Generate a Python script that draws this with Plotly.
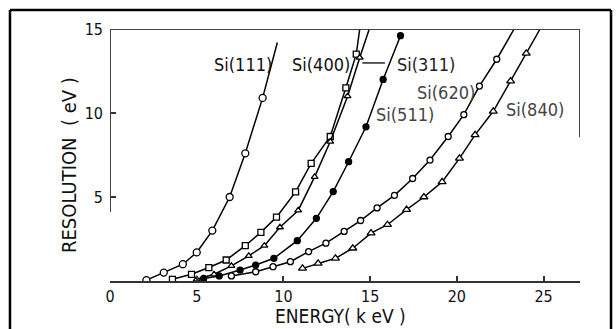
import plotly.graph_objects as go

# ---- data ----
si111_x = [2.1, 3.1, 4.2, 5.0, 5.9, 6.9, 7.8, 8.8, 9.65]
si111_y = [0.05, 0.5, 1.0, 1.7, 3.0, 5.0, 7.6, 10.9, 14.2]

si400_x = [3.6, 4.7, 5.7, 6.7, 7.8, 8.7, 9.6, 10.7, 11.6, 12.7, 13.6, 14.2, 14.4]
si400_y = [0.1, 0.4, 0.8, 1.25, 2.1, 2.9, 3.8, 5.3, 7.0, 8.6, 11.5, 13.5, 15.0]

si311_x = [5.0, 6.0, 7.0, 8.0, 8.9, 9.8, 10.85, 11.8, 12.7, 13.7, 14.4, 14.95]
si311_y = [0.1, 0.4, 0.9, 1.5, 2.1, 3.2, 4.2, 6.2, 8.3, 11.0, 13.3, 15.0]

si511_x = [5.4, 6.3, 7.5, 8.4, 9.45, 10.8, 11.9, 12.87, 13.76, 14.76, 15.75, 16.75]
si511_y = [0.15, 0.3, 0.65, 0.95, 1.35, 2.4, 3.73, 5.32, 7.1, 9.18, 12.0, 14.6]

si620_x = [7.0, 8.4, 9.4, 10.4, 11.45, 12.45, 13.5, 14.45, 15.4, 16.4, 17.45,
           18.45, 19.5, 20.4, 21.3, 22.3, 23.3]
si620_y = [0.3, 0.55, 0.85, 1.15, 1.75, 2.25, 2.95, 3.6, 4.35, 5.1, 6.1,
           7.2, 8.6, 9.9, 11.6, 13.2, 15.0]

si840_x = [11.1, 12.0, 13.0, 14.0, 15.05, 16.0, 17.1, 18.1, 19.15, 20.15,
           21.05, 22.1, 23.1, 24.0, 24.8]
si840_y = [0.75, 1.05, 1.35, 1.95, 2.85, 3.35, 4.25, 5.0, 5.9, 7.3,
           8.7, 10.1, 11.9, 13.55, 15.0]

x_ticks = [0, 5, 10, 15, 20, 25]
y_ticks = [5, 10, 15]

labels = ["Si(111)", "Si(400)", "Si(311)", "Si(620)", "Si(511)", "Si(840)"]

FONT = "DejaVu Sans Condensed, Liberation Sans Narrow, DejaVu Sans, sans-serif"

# (name, x, y, symbol, size, fill, last point is a bare line end)
series = [
    ("Si(111)", si111_x, si111_y, "circle", 7, "white", True),
    ("Si(400)", si400_x, si400_y, "square", 6, "white", True),
    ("Si(311)", si311_x, si311_y, "triangle-up", 6, "white", True),
    ("Si(511)", si511_x, si511_y, "circle", 6, "black", False),
    ("Si(620)", si620_x, si620_y, "circle", 6, "white", True),
    ("Si(840)", si840_x, si840_y, "triangle-up", 7, "white", True),
]

fig = go.Figure()
for name, xs, ys, sym, sz, fill, bare_end in series:
    sizes = [sz] * len(xs)
    if bare_end:
        sizes[-1] = 0
    fig.add_trace(go.Scatter(
        x=xs, y=ys, name=name, mode="lines+markers",
        line=dict(color="black", width=1.5),
        marker=dict(symbol=sym, size=sizes, color=fill, opacity=1,
                    line=dict(color="black", width=1.3)),
        showlegend=False,
    ))

XMAX = 27.1
fig.update_xaxes(range=[0, XMAX], tickvals=x_ticks, ticktext=[str(v) for v in x_ticks],
                 showgrid=False, zeroline=False, showline=True, linecolor="#333",
                 linewidth=2, ticks="inside", ticklen=5, tickcolor="#333", tickwidth=1.5,
                 tickfont=dict(family=FONT, size=16, color="#111"))
fig.update_yaxes(range=[0, 15], tickvals=y_ticks, ticktext=[str(v) for v in y_ticks],
                 showgrid=False, zeroline=False, showline=False,
                 ticks="inside", ticklen=6, tickcolor="#333", tickwidth=1.5,
                 ticklabelstandoff=6,
                 tickfont=dict(family=FONT, size=16, color="#111"))

shapes = [
    # partial frame of the plot area
    dict(type="line", xref="x", yref="y", x0=0, x1=XMAX, y0=15, y1=15,
         line=dict(color="#444", width=2)),
    dict(type="line", xref="x", yref="y", x0=0, x1=0, y0=4.1, y1=15,
         line=dict(color="#444", width=2)),
    dict(type="line", xref="x", yref="y", x0=XMAX, x1=XMAX, y0=8.55, y1=15,
         line=dict(color="#444", width=2)),
    # leader line from Si(400) label
    dict(type="line", xref="x", yref="y", x0=14.55, x1=15.85, y0=12.98, y1=12.98,
         line=dict(color="#222", width=1.5)),
    # outer page frame
    dict(type="line", xref="paper", yref="paper", x0=-0.2128, x1=1.066, y0=1.0754, y1=1.0754,
         line=dict(color="black", width=2.5)),
    dict(type="line", xref="paper", yref="paper", x0=-0.2128, x1=-0.2128, y0=1.0754, y1=-0.3,
         line=dict(color="black", width=2.5)),
    dict(type="line", xref="paper", yref="paper", x0=1.066, x1=1.066, y0=1.0754, y1=-0.3,
         line=dict(color="black", width=2.5)),
]

# label positions (x data, y data)
label_pos = [
    (labels[0], 7.67, 12.9, "#111"),
    (labels[1], 12.15, 12.9, "#111"),
    (labels[2], 18.2, 12.9, "#222"),
    (labels[3], 19.4, 11.25, "#444"),
    (labels[4], 17.0, 9.9, "#444"),
    (labels[5], 24.5, 10.2, "#444"),
]
annotations = []
for txt, ax, ay, col in label_pos:
    annotations.append(dict(x=ax, y=ay, xref="x", yref="y", text=txt, showarrow=False,
                            xanchor="center", yanchor="middle",
                            font=dict(family=FONT, size=18, color=col)))

annotations.append(dict(x=(340 - 110) / 470, y=(281 - 316) / 252, xref="paper", yref="paper",
                        text="ENERGY( k eV )", showarrow=False,
                        xanchor="center", yanchor="middle",
                        font=dict(family=FONT, size=19, color="#111")))
annotations.append(dict(x=(69 - 110) / 470, y=(281 - 165) / 252, xref="paper", yref="paper",
                        text="RESOLUTION  ( eV )", showarrow=False, textangle=-90,
                        xanchor="center", yanchor="middle",
                        font=dict(family=FONT, size=20, color="#111")))

fig.update_layout(
    width=616, height=329,
    margin=dict(l=110, r=36, t=29, b=48),
    paper_bgcolor="white", plot_bgcolor="white",
    shapes=shapes, annotations=annotations,
)

fig.write_html("out.html")
